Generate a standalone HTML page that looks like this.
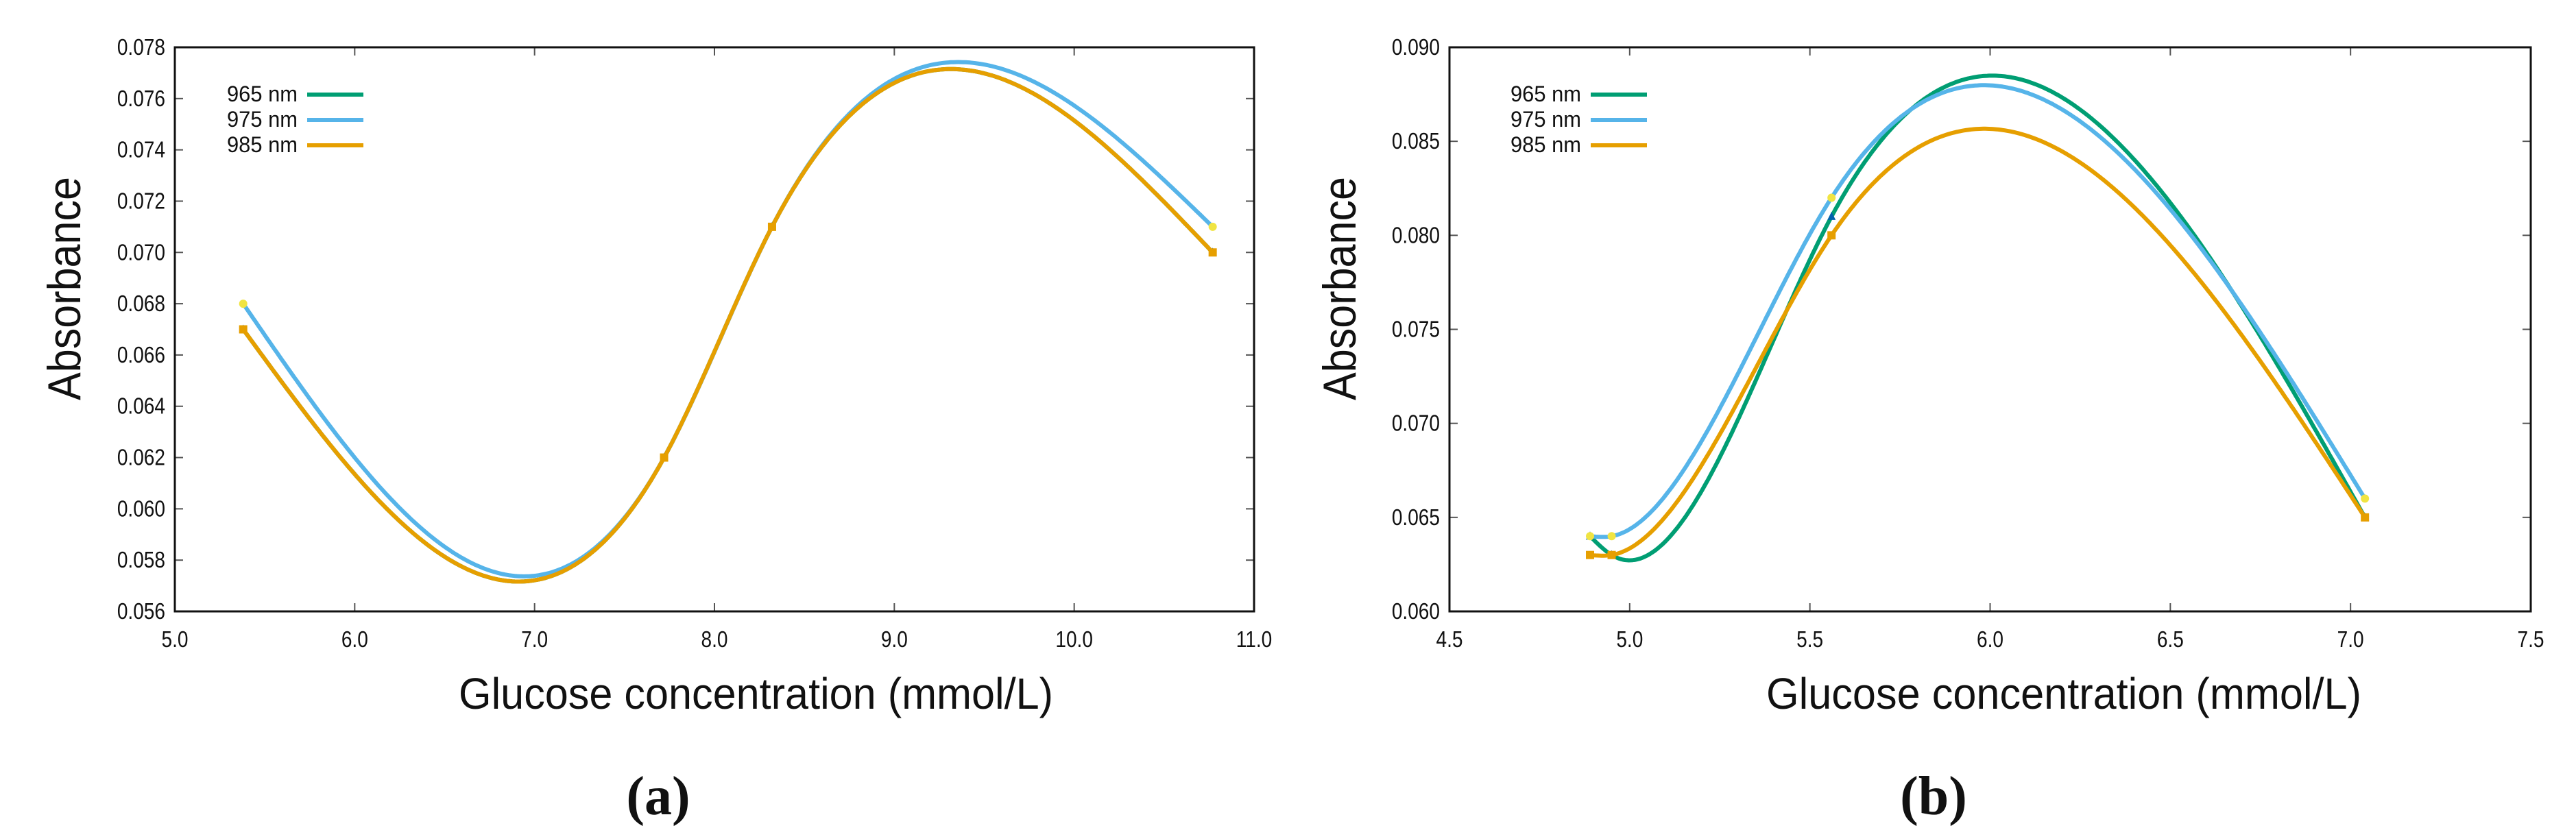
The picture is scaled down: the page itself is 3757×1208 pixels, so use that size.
<!DOCTYPE html>
<html><head><meta charset="utf-8"><style>
html,body{margin:0;padding:0;background:#fff;}
svg{display:block;}
</style></head><body>
<svg id="fig" xmlns="http://www.w3.org/2000/svg" width="3757" height="1208" viewBox="0 0 3757 1208">
<rect x="0" y="0" width="3757" height="1208" fill="#fff"/>
<g id="chartA"></g>
<g id="chartB"></g>
</svg>
<script>
// Chart (a) data
const aX = [5.38, 7.72, 8.32, 10.77];
const a965 = [0.067, 0.062, 0.071, 0.070];
const a975 = [0.068, 0.062, 0.071, 0.071];
const a985 = [0.067, 0.062, 0.071, 0.070];
const aXTicks = [5.0, 6.0, 7.0, 8.0, 9.0, 10.0, 11.0];
const aYTicks = [0.056, 0.058, 0.060, 0.062, 0.064, 0.066, 0.068, 0.070, 0.072, 0.074, 0.076, 0.078];
// Chart (b) data
const bX = [4.89, 4.95, 5.56, 7.04];
const b965 = [0.064, 0.063, 0.081, 0.065];
const b975 = [0.064, 0.064, 0.082, 0.066];
const b985 = [0.063, 0.063, 0.080, 0.065];
const bXTicks = [4.5, 5.0, 5.5, 6.0, 6.5, 7.0, 7.5];
const bYTicks = [0.060, 0.065, 0.070, 0.075, 0.080, 0.085, 0.090];
const seriesNames = ["965 nm", "975 nm", "985 nm"];

const NS = "http://www.w3.org/2000/svg";
const COLORS = ["#009e73", "#56b4e9", "#e69f00"];
const MARK = ["#0060ad", "#f0e442", "#e69f00"];

function mk(parent, tag, attrs) {
  const e = document.createElementNS(NS, tag);
  for (const k in attrs) e.setAttribute(k, attrs[k]);
  parent.appendChild(e);
  return e;
}

function spline(xs, ys) {
  const n = xs.length, h = [], al = [0], l = [1], mu = [0], z = [0], c = new Array(n).fill(0), b = [], d = [];
  for (let i = 0; i < n - 1; i++) h.push(xs[i + 1] - xs[i]);
  for (let i = 1; i < n - 1; i++) al[i] = 3 / h[i] * (ys[i + 1] - ys[i]) - 3 / h[i - 1] * (ys[i] - ys[i - 1]);
  for (let i = 1; i < n - 1; i++) {
    l[i] = 2 * (xs[i + 1] - xs[i - 1]) - h[i - 1] * mu[i - 1];
    mu[i] = h[i] / l[i];
    z[i] = (al[i] - h[i - 1] * z[i - 1]) / l[i];
  }
  l[n - 1] = 1; z[n - 1] = 0;
  for (let j = n - 2; j >= 0; j--) {
    c[j] = z[j] - mu[j] * c[j + 1];
    b[j] = (ys[j + 1] - ys[j]) / h[j] - h[j] * (c[j + 1] + 2 * c[j]) / 3;
    d[j] = (c[j + 1] - c[j]) / (3 * h[j]);
  }
  return function (x) {
    let i = 0;
    while (i < n - 2 && x > xs[i + 1]) i++;
    const t = x - xs[i];
    return ys[i] + b[i] * t + c[i] * t * t + d[i] * t * t * t;
  };
}

function draw(g, cfg) {
  const {L, R, T, B, xmin, xmax, ymin, ymax, xTicks, yTicks, xDec, yDec, xs, series, legX, legLineX, titleX, glX, glW, cap, capX} = cfg;
  const sx = v => L + (v - xmin) / (xmax - xmin) * (R - L);
  const sy = v => B - (v - ymin) / (ymax - ymin) * (B - T);
  const plot = mk(g, "g", {});
  
  
  xTicks.forEach(v => {
    const x = sx(v);
    mk(plot, "line", {x1: x, y1: B, x2: x, y2: B - 12, stroke: "#555", "stroke-width": 2});
    mk(plot, "line", {x1: x, y1: T, x2: x, y2: T + 12, stroke: "#555", "stroke-width": 2});
    const t = mk(g, "text", {x: x, y: 944, "font-size": 33, "text-anchor": "middle", "font-family": "Liberation Sans, sans-serif", fill: "#111", transform: `translate(${x},0) scale(0.85,1) translate(${-x},0)`});
    
    
    t.textContent = v.toFixed(xDec);
  });
  yTicks.forEach(v => {
    const y = sy(v);
    mk(plot, "line", {x1: L, y1: y, x2: L + 12, y2: y, stroke: "#555", "stroke-width": 2});
    mk(plot, "line", {x1: R, y1: y, x2: R - 12, y2: y, stroke: "#555", "stroke-width": 2});
    const t = mk(g, "text", {x: L - 14, y: y + 11, "font-size": 33, "text-anchor": "end", "font-family": "Liberation Sans, sans-serif", fill: "#111", transform: `translate(${L - 14},0) scale(0.85,1) translate(${-(L - 14)},0)`});
    
    
    t.textContent = v.toFixed(yDec);
  });
  series.forEach((ys, si) => {
    const f = spline(xs, ys);
    let d = "";
    const x0 = xs[0], x1 = xs[xs.length - 1];
    for (let k = 0; k <= 400; k++) {
      const x = x0 + (x1 - x0) * k / 400;
      d += (k ? "L" : "M") + sx(x).toFixed(1) + "," + sy(f(x)).toFixed(1);
    }
    const p = mk(plot, "path", {d: d, fill: "none", stroke: COLORS[si], "stroke-width": 6, "stroke-linejoin": "round"});
    
    
  });
  series.forEach((ys, si) => {
    ys.forEach((v, i) => {
      const x = sx(xs[i]), y = sy(v);
      let m;
      if (si === 0) m = mk(plot, "polygon", {points: `${x - 6},${y + 5} ${x + 6},${y + 5} ${x},${y - 7}`, fill: MARK[0]});
      else if (si === 1) m = mk(plot, "circle", {cx: x, cy: y, r: 6, fill: MARK[1]});
      else m = mk(plot, "rect", {x: x - 6, y: y - 6, width: 12, height: 12, fill: MARK[2]});
      
      
    });
  });
  mk(plot, "rect", {x: L, y: T, width: R - L, height: B - T, fill: "none", stroke: "#111", "stroke-width": 3});
  const rows = [148, 185, 222];
  seriesNames.forEach((nm, i) => {
    const lg = mk(g, "g", {});
    
    
    const t = mk(lg, "text", {x: legX, y: rows[i], "font-size": 32, "font-family": "Liberation Sans, sans-serif", fill: "#111", textLength: 103, lengthAdjust: "spacingAndGlyphs"});
    t.textContent = nm;
    mk(lg, "line", {x1: legLineX, y1: rows[i] - 10, x2: legLineX + 82, y2: rows[i] - 10, stroke: COLORS[i], "stroke-width": 6});
  });
  const yt = mk(g, "text", {x: 0, y: 0, "font-size": 68, "font-family": "Liberation Sans, sans-serif", fill: "#111", "text-anchor": "middle", textLength: 326, lengthAdjust: "spacingAndGlyphs", transform: `translate(${titleX},421) rotate(-90)`});
  
  
  yt.textContent = "Absorbance";
  const xt = mk(g, "text", {x: glX, y: 1034, "font-size": 64, "font-family": "Liberation Sans, sans-serif", fill: "#111", textLength: glW, lengthAdjust: "spacingAndGlyphs"});
  
  
  xt.textContent = "Glucose concentration (mmol/L)";
  const ct = mk(g, "text", {x: capX, y: 1188, "font-size": 80, "font-weight": "bold", "font-family": "Liberation Serif, serif", fill: "#111", "text-anchor": "middle"});
  
  
  ct.textContent = cap;
}

draw(document.getElementById("chartA"), {L: 255, R: 1829, T: 69, B: 892, xmin: 5, xmax: 11, ymin: 0.056, ymax: 0.078,
  xTicks: aXTicks, yTicks: aYTicks, xDec: 1, yDec: 3, xs: aX, series: [a965, a975, a985],
  legX: 331, legLineX: 448, titleX: 117, glX: 669, glW: 867, cap: "(a)", capX: 960});
draw(document.getElementById("chartB"), {L: 2114, R: 3691, T: 69, B: 892, xmin: 4.5, xmax: 7.5, ymin: 0.060, ymax: 0.090,
  xTicks: bXTicks, yTicks: bYTicks, xDec: 1, yDec: 3, xs: bX, series: [b965, b975, b985],
  legX: 2203, legLineX: 2320, titleX: 1977, glX: 2576, glW: 868, cap: "(b)", capX: 2820});
</script>
</body></html>
